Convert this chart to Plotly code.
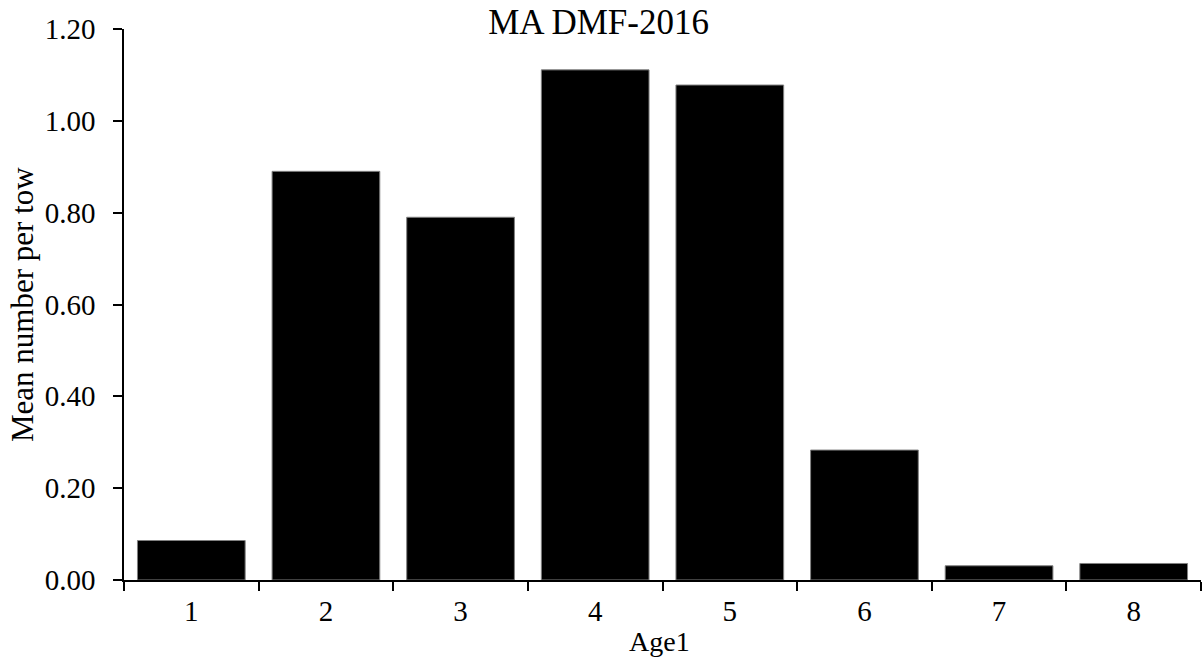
import plotly.graph_objects as go

ages = ["1", "2", "3", "4", "5", "6", "7", "8"]
mean_per_tow = [0.086, 0.890, 0.790, 1.111, 1.078, 0.283, 0.031, 0.036]
y_ticks = [0.0, 0.2, 0.4, 0.6, 0.8, 1.0, 1.2]
y_tick_text = ["0.00", "0.20", "0.40", "0.60", "0.80", "1.00", "1.20"]

FONT = "Liberation Serif, Times New Roman, serif"
W, H = 1202, 661

fig = go.Figure(
    go.Bar(
        x=ages,
        y=mean_per_tow,
        marker=dict(color="black", line=dict(color="#808080", width=1)),
    )
)

fig.update_layout(
    width=W,
    height=H,
    margin=dict(l=124, r=1, t=29, b=81, autoexpand=False),
    paper_bgcolor="white",
    plot_bgcolor="white",
    bargap=0.2,
    showlegend=False,
    font=dict(family=FONT, size=29, color="black"),
    title=dict(
        text="MA DMF-2016",
        x=0.498,
        xref="container",
        xanchor="center",
        y=1 - 21.5 / H,
        yref="container",
        yanchor="middle",
        font=dict(family=FONT, size=35, color="black"),
    ),
    annotations=[
        dict(
            text="Mean number per tow",
            xref="paper", yref="paper",
            x=-(124 - 22.5) / (W - 125), y=0.5,
            xanchor="center", yanchor="middle",
            textangle=-90, showarrow=False,
            font=dict(family=FONT, size=31, color="black"),
        ),
        dict(
            text="Age1",
            xref="paper", yref="paper",
            x=0.497, y=-(641 - 580) / (H - 29 - 81),
            xanchor="center", yanchor="middle",
            showarrow=False,
            font=dict(family=FONT, size=28, color="black"),
        ),
    ],
)

fig.update_xaxes(
    type="category",
    tickson="boundaries",
    ticks="outside",
    ticklen=9,
    tickwidth=1.5,
    tickcolor="black",
    showline=True,
    linecolor="black",
    linewidth=1.5,
    showgrid=False,
    automargin=False,
    ticklabelstandoff=4,
    tickfont=dict(family=FONT, size=29, color="black"),
)

fig.update_yaxes(
    range=[0, 1.2],
    tickvals=y_ticks,
    ticktext=y_tick_text,
    ticks="outside",
    ticklen=9,
    tickwidth=1.5,
    tickcolor="black",
    showline=True,
    linecolor="black",
    linewidth=1.5,
    showgrid=False,
    zeroline=False,
    automargin=False,
    ticklabelstandoff=12,
    tickfont=dict(family=FONT, size=29, color="black"),
)

fig.write_html(
    "out.html",
    config={"displayModeBar": False},
    post_script="document.body.style.margin='0';document.body.style.overflow='hidden';",
)
